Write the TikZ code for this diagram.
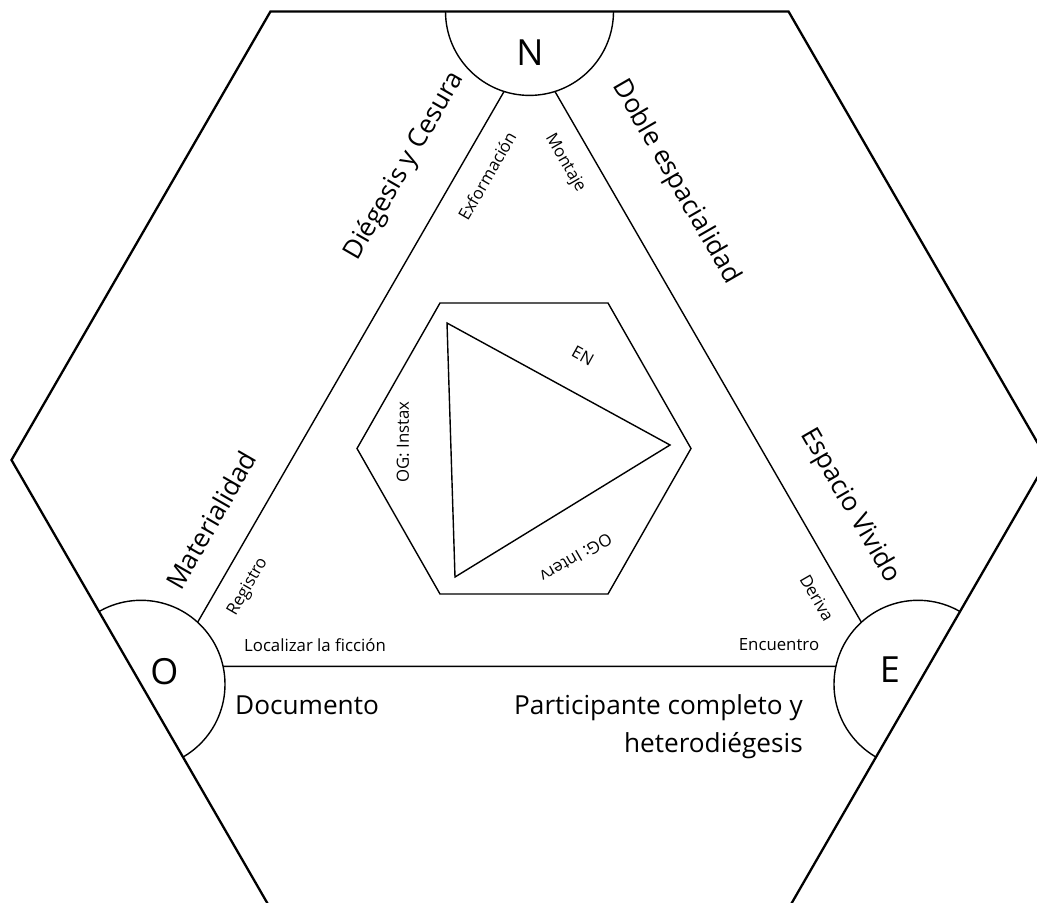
\documentclass[tikz,border=0pt]{standalone}
\usepackage{fontspec}
\setmainfont{Open Sans}
\begin{document}
\begin{tikzpicture}[x=1pt,y=-1pt,
  hexline/.style={line width=2.3pt, line join=miter},
  edgeline/.style={line width=1.4pt},
  biglab/.style={font=\fontsize{26.2}{38}\selectfont, inner sep=0pt},
  smalllab/.style={font=\fontsize{16.8}{20}\selectfont, inner sep=0pt},
  polelab/.style={font=\fontsize{36}{40}\selectfont, inner sep=0pt},
  pole/.style={circle, draw, fill=white, line width=1.4pt, minimum size=168pt, inner sep=0pt}
]
\useasboundingbox (0,0) rectangle (1037,903);
\fill[white] (0,0) rectangle (1037,903);
\clip (0,0) rectangle (1037,903);
% outer hexagon corners
\coordinate (hL) at (11.5,460);
\coordinate (hTL) at (270.5,11.4);
\coordinate (hTR) at (788.5,11.4);
\coordinate (hR) at (1047.5,460);
\coordinate (hBR) at (788.5,908.6);
\coordinate (hBL) at (270.5,908.6);
% main triangle corners
\coordinate (tN) at (529.5,47.4);
\coordinate (tO) at (172.2,666.3);
\coordinate (tE) at (886.8,666.3);
\draw[edgeline] (tO) -- (tN) -- (tE) -- cycle;
% pole circles, clipped by the hexagon
\begin{scope}
\clip (hL) -- (hTL) -- (hTR) -- (hR) -- (hBR) -- (hBL) -- cycle;
\node[pole] (N) at (529.5,11.4) {};
\node[pole] (O) at (141,684.3) {};
\node[pole] (E) at (918,684.3) {};
\end{scope}
\draw[hexline] (hL) -- (hTL) -- (hTR) -- (hR) -- (hBR) -- (hBL) -- cycle;
% pole letters
\node[polelab] (Nl) at (530,52.5) {N};
\node[polelab] (Ol) at (164.5,671.5) {O};
\node[polelab] (El) at (890,670) {E};
% inner hexagon
\coordinate (iL) at (357,448.5);
\coordinate (iTL) at (440,303);
\coordinate (iTR) at (608,303);
\coordinate (iR) at (691,448.5);
\coordinate (iBR) at (608,594);
\coordinate (iBL) at (440,594);
\draw[edgeline] (iL) -- (iTL) -- (iTR) -- (iR) -- (iBR) -- (iBL) -- cycle;
% inner triangle
\coordinate (ta) at (447,323);
\coordinate (tb) at (670,445);
\coordinate (tc) at (455,577);
\draw[edgeline] (ta) -- (tb) -- (tc) -- cycle;
% inner labels
\node[smalllab, rotate=-29] (en) at (583,356) {EN};
\node[smalllab, rotate=90] (instax) at (403,442) {OG: Instax};
\node[smalllab, rotate=210] (interv) at (576,558) {OG: Interv};
% big labels
\node[biglab, rotate=60] (diegesis) at (405,166) {Diégesis y Cesura};
\node[biglab, rotate=-60] (doble) at (676,182) {Doble espacialidad};
\node[biglab, rotate=60] (material) at (211,520) {Materialidad};
\node[biglab, rotate=-60] (espacio) at (850,506) {Espacio Vivido};
\node[biglab, anchor=base west] (docu) at (235,714) {Documento};
\node[biglab, align=right, anchor=north east] (partic) at (803,694) {Participante completo y\\heterodiégesis};
% small labels
\node[smalllab, rotate=60] (exfor) at (487,176) {Exformación};
\node[smalllab, rotate=-60] (montaje) at (565,163) {Montaje};
\node[smalllab, rotate=60] (registro) at (248,587) {Registro};
\node[smalllab, rotate=-60] (deriva) at (817,598) {Deriva};
\node[smalllab] (localizar) at (315,645) {Localizar la ficción};
\node[smalllab] (encuentro) at (779,645) {Encuentro};
\end{tikzpicture}
\end{document}
